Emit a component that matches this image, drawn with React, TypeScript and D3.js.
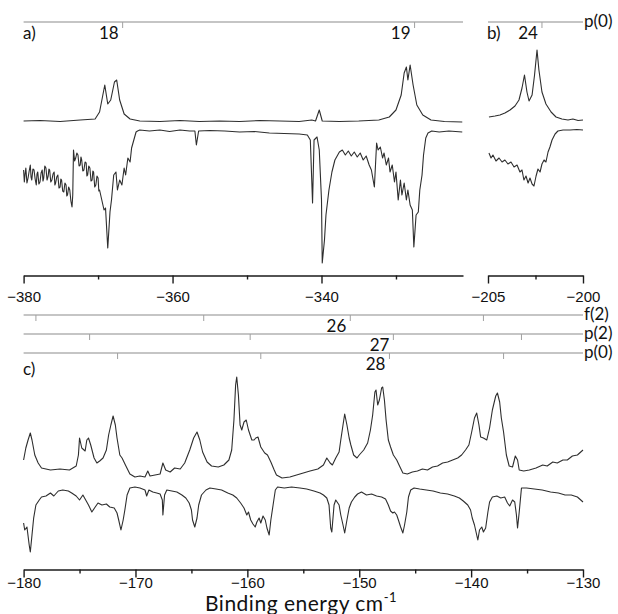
import { useRef, useEffect } from 'react';
import * as d3 from 'd3';

// binding energy (cm-1) / intensity (arb. units)

// panel a) upper trace
const aUpper = [
  [-380, 154], [-377.8, 154.5], [-375.1, 153.5], [-372.4, 155], [-370.4, 156],
  [-369.8, 163], [-369.1, 190], [-368.7, 171], [-368.3, 175], [-367.8, 193],
  [-367.5, 195], [-367.1, 175], [-366.5, 161], [-365.7, 156], [-364.4, 154],
  [-361.7, 153.5], [-359.0, 154.5], [-356.4, 153.5], [-353.7, 154], [-351.0, 153.5],
  [-348.3, 154.5], [-345.6, 154], [-343.0, 153.5], [-341.3, 155], [-340.8, 154],
  [-340.3, 165], [-339.9, 154], [-337.6, 153.5], [-335.0, 154], [-332.3, 155],
  [-330.9, 158], [-330.0, 165], [-329.3, 180], [-328.9, 202], [-328.6, 208],
  [-328.4, 195], [-328.1, 210], [-327.7, 190], [-327.2, 170], [-326.4, 160],
  [-325.3, 155], [-323.5, 153.5], [-321.1, 153],
];

// panel a) lower trace
const aLower = [
  [-380.0, 105], [-379.9, 93], [-379.8, 101], [-379.7, 107], [-379.55, 92], [-379.4, 97],
  [-379.25, 104], [-379.1, 110], [-379.0, 98], [-378.9, 95], [-378.75, 106], [-378.6, 105],
  [-378.45, 96], [-378.3, 90], [-378.2, 101], [-378.1, 103], [-377.95, 91], [-377.8, 93],
  [-377.65, 102], [-377.5, 105], [-377.4, 94], [-377.3, 97], [-377.15, 109], [-377.0, 107],
  [-376.85, 95], [-376.7, 99], [-376.6, 106], [-376.5, 105], [-376.35, 93], [-376.2, 95],
  [-376.05, 101], [-375.9, 103], [-375.8, 90], [-375.7, 92], [-375.55, 98], [-375.4, 100],
  [-375.25, 87], [-375.1, 88], [-375.0, 96], [-374.9, 95], [-374.75, 84], [-374.6, 83],
  [-374.45, 92], [-374.3, 90], [-374.2, 79], [-374.1, 80], [-373.95, 88], [-373.8, 85],
  [-373.65, 74], [-373.5, 68], [-373.4, 80], [-373.3, 125], [-373.15, 114], [-373.0, 117],
  [-372.85, 122], [-372.7, 120], [-372.55, 109], [-372.4, 110], [-372.3, 118], [-372.2, 115],
  [-372.05, 104], [-371.9, 105], [-371.75, 113], [-371.6, 112], [-371.5, 99], [-371.4, 100],
  [-371.25, 109], [-371.1, 107], [-370.95, 94], [-370.8, 95], [-370.7, 104], [-370.6, 103],
  [-370.45, 88], [-370.3, 90], [-370.15, 99], [-370.0, 97], [-369.9, 84],
  [-369.8, 85], [-369.5, 75], [-369.2, 65], [-369.0, 67], [-368.7, 27],
  [-368.4, 63], [-368.2, 75], [-367.9, 100], [-367.6, 103], [-367.4, 85],
  [-367.1, 95], [-366.8, 90], [-366.5, 107], [-366.3, 100], [-366.0, 117],
  [-365.7, 113], [-365.5, 127], [-365.2, 135], [-364.9, 143], [-364.7, 144],
  [-364.4, 145], [-363.1, 144], [-361.7, 145], [-360.4, 143.5], [-359.0, 145],
  [-357.7, 144], [-357.0, 144], [-356.8, 130], [-356.5, 144], [-355.0, 144.5],
  [-353.0, 144], [-351.0, 143], [-349.0, 143.5], [-347.0, 142], [-345.0, 141.5],
  [-343.0, 141], [-341.9, 140], [-341.5, 135], [-341.2, 72], [-341.0, 135],
  [-340.6, 138], [-340.3, 125], [-340.0, 75], [-339.9, 12], [-339.6, 35],
  [-339.4, 60], [-339.0, 85], [-338.6, 103], [-338.2, 115], [-337.6, 123],
  [-337.2, 125], [-336.8, 120], [-336.4, 124], [-336.0, 119], [-335.6, 123],
  [-335.2, 118], [-334.8, 122], [-334.4, 115], [-334.0, 119], [-333.6, 110],
  [-333.3, 105], [-332.9, 88], [-332.6, 132], [-332.4, 125], [-332.1, 128],
  [-331.8, 117], [-331.6, 122], [-331.3, 110], [-331.0, 117], [-330.8, 103],
  [-330.5, 110], [-330.2, 93], [-330.0, 103], [-329.7, 75], [-329.4, 95],
  [-329.2, 80], [-328.9, 92], [-328.6, 75], [-328.4, 85], [-328.1, 70],
  [-327.8, 65], [-327.6, 28], [-327.3, 60], [-327.0, 63], [-326.8, 85],
  [-326.5, 100], [-326.3, 120], [-326.0, 137], [-325.7, 142], [-325.2, 144],
  [-324.2, 143], [-322.9, 144], [-321.1, 143],
];

// panel b) upper trace
const bUpper = [
  [-204.95, 158], [-204.63, 159], [-204.37, 160], [-204.11, 162], [-203.84, 165],
  [-203.58, 169], [-203.37, 175], [-203.21, 187], [-203.08, 200], [-202.95, 183],
  [-202.84, 174], [-202.68, 180], [-202.55, 200], [-202.42, 225], [-202.32, 205],
  [-202.16, 183], [-201.95, 171], [-201.68, 163], [-201.42, 158], [-201.11, 156],
  [-200.79, 155], [-200.53, 156], [-200.26, 154.5], [-200.0, 155],
];

// panel b) lower trace
const bLower = [
  [-204.95, 122], [-204.84, 117], [-204.74, 120], [-204.58, 114], [-204.42, 117],
  [-204.26, 113], [-204.11, 115], [-203.95, 111], [-203.79, 113], [-203.63, 108],
  [-203.47, 110], [-203.32, 103], [-203.21, 105], [-203.11, 95], [-203.0, 99],
  [-202.89, 92], [-202.79, 97], [-202.68, 91], [-202.58, 89], [-202.47, 99],
  [-202.37, 106], [-202.26, 103], [-202.16, 111], [-202.05, 115], [-201.95, 113],
  [-201.84, 123], [-201.74, 128], [-201.63, 135], [-201.47, 141], [-201.32, 144],
  [-201.05, 145], [-200.68, 145], [-200.32, 145.5], [-200.0, 145],
];

// panel c) upper trace
const cUpper = [
  [-180.0, 110], [-179.8, 122], [-179.6, 130], [-179.4, 137], [-179.25, 130],
  [-179.0, 115], [-178.7, 107], [-178.4, 102], [-177.6, 100], [-176.75, 101],
  [-175.9, 100], [-175.3, 104], [-175.1, 115], [-175.0, 132], [-174.8, 122],
  [-174.5, 119], [-174.35, 130], [-174.2, 132], [-174.0, 125], [-173.7, 112],
  [-173.45, 107], [-173.2, 109], [-172.9, 112], [-172.6, 120], [-172.4, 135],
  [-172.2, 145], [-172.0, 154], [-171.8, 145], [-171.65, 132], [-171.4, 115],
  [-171.2, 112], [-170.9, 105], [-170.5, 96], [-170.05, 93], [-169.6, 94],
  [-169.15, 93], [-168.9, 99], [-168.7, 94], [-168.25, 95], [-167.8, 96],
  [-167.55, 107], [-167.3, 100], [-166.9, 98], [-166.5, 102], [-166.0, 101],
  [-165.6, 107], [-165.15, 120], [-164.8, 132], [-164.5, 138], [-164.25, 130],
  [-164.0, 118], [-163.6, 108], [-163.2, 104], [-162.6, 103], [-162.1, 105],
  [-161.65, 110], [-161.4, 120], [-161.2, 150], [-161.05, 185], [-160.95, 193],
  [-160.8, 175], [-160.65, 145], [-160.5, 140], [-160.3, 148], [-160.1, 150],
  [-159.9, 140], [-159.6, 130], [-159.4, 130], [-159.25, 132], [-159.05, 133],
  [-158.8, 123], [-158.45, 117], [-158.2, 115], [-157.9, 108], [-157.6, 100],
  [-157.4, 95], [-156.9, 92], [-156.2, 93], [-155.3, 96], [-154.4, 99],
  [-153.7, 101], [-153.2, 105], [-152.9, 112], [-152.6, 107], [-152.4, 105],
  [-152.1, 112], [-151.8, 118], [-151.65, 130], [-151.45, 145], [-151.3, 156],
  [-151.1, 145], [-150.9, 132], [-150.75, 125], [-150.5, 115], [-150.2, 112],
  [-150.0, 115], [-149.6, 120], [-149.25, 127], [-149.0, 140], [-148.8, 155],
  [-148.6, 178], [-148.5, 180], [-148.35, 165], [-148.2, 170], [-148.0, 182],
  [-147.9, 183], [-147.75, 170], [-147.6, 150], [-147.4, 130], [-147.2, 123],
  [-146.95, 115], [-146.65, 110], [-146.4, 104], [-146.1, 97], [-145.7, 96],
  [-145.25, 98], [-144.8, 99], [-144.35, 101], [-143.9, 100], [-143.45, 103],
  [-143.0, 104], [-142.55, 107], [-142.1, 108], [-141.65, 110], [-141.2, 112],
  [-140.85, 115], [-140.5, 120], [-140.2, 125], [-139.95, 138], [-139.7, 152],
  [-139.5, 157], [-139.3, 145], [-139.15, 133], [-138.9, 132], [-138.6, 130],
  [-138.35, 142], [-138.1, 160], [-137.8, 174], [-137.65, 177], [-137.45, 168],
  [-137.3, 152], [-137.1, 138], [-136.85, 115], [-136.6, 104], [-136.3, 103],
  [-136.05, 114], [-135.85, 110], [-135.7, 100], [-135.3, 99], [-134.8, 100],
  [-134.2, 102], [-133.6, 105], [-133.2, 104], [-132.7, 108], [-132.3, 107],
  [-131.8, 110], [-131.4, 110], [-130.95, 114], [-130.5, 115], [-130.0, 120],
];

// panel c) lower trace
const cLower = [
  [-180.0, 47], [-179.9, 40], [-179.7, 43], [-179.5, 25], [-179.4, 18],
  [-179.25, 35], [-179.1, 52], [-178.9, 65], [-178.6, 70], [-178.4, 73],
  [-178.0, 74], [-177.6, 77], [-177.3, 74], [-176.9, 79], [-176.5, 80],
  [-176.0, 79], [-175.7, 77], [-175.3, 74], [-175.0, 70], [-174.7, 75],
  [-174.4, 69], [-174.2, 65], [-173.9, 58], [-173.6, 63], [-173.35, 67],
  [-173.0, 65], [-172.6, 66], [-172.3, 63], [-171.9, 62], [-171.65, 57],
  [-171.5, 50], [-171.3, 40], [-171.1, 50], [-170.95, 60], [-170.75, 75],
  [-170.5, 82], [-170.05, 83], [-169.6, 82], [-169.15, 80], [-169.0, 74],
  [-168.8, 80], [-168.45, 78], [-168.1, 77], [-167.8, 76], [-167.6, 70],
  [-167.55, 55], [-167.4, 75], [-167.2, 80], [-166.75, 79], [-166.3, 78],
  [-165.85, 75], [-165.5, 72], [-165.2, 67], [-165.0, 60], [-164.9, 50],
  [-164.7, 43], [-164.5, 52], [-164.35, 65], [-164.1, 75], [-163.7, 80],
  [-163.35, 82], [-162.8, 81], [-162.3, 80], [-161.75, 77], [-161.3, 75],
  [-160.95, 72], [-160.6, 67], [-160.3, 62], [-160.05, 55], [-159.9, 58],
  [-159.7, 50], [-159.5, 46], [-159.3, 43], [-159.15, 48], [-158.95, 52],
  [-158.8, 47], [-158.6, 54], [-158.4, 50], [-158.25, 42], [-158.05, 35],
  [-157.9, 50], [-157.7, 65], [-157.5, 80], [-157.3, 83], [-156.7, 82],
  [-156.05, 83], [-155.3, 82], [-154.7, 81], [-154.05, 79], [-153.5, 77],
  [-153.2, 75], [-152.9, 72], [-152.7, 65], [-152.55, 42], [-152.45, 38],
  [-152.25, 65], [-152.1, 70], [-151.8, 65], [-151.65, 55], [-151.45, 45],
  [-151.3, 37], [-151.1, 50], [-150.9, 62], [-150.7, 68], [-150.4, 73],
  [-150.15, 76], [-149.8, 78], [-149.35, 75], [-148.9, 76], [-148.45, 74],
  [-148.0, 73], [-147.65, 71], [-147.4, 65], [-147.2, 59], [-147.0, 57],
  [-146.85, 58], [-146.65, 55], [-146.5, 50], [-146.3, 43], [-146.1, 37],
  [-145.95, 45], [-145.75, 58], [-145.6, 73], [-145.4, 80], [-145.1, 82],
  [-144.6, 81], [-144.0, 80], [-143.4, 79], [-142.75, 77], [-142.1, 76],
  [-141.5, 74], [-141.05, 72], [-140.7, 69], [-140.3, 65], [-140.05, 60],
  [-139.9, 52], [-139.7, 45], [-139.5, 35], [-139.4, 30], [-139.25, 40],
  [-139.05, 43], [-138.9, 38], [-138.7, 42], [-138.5, 58], [-138.35, 68],
  [-138.1, 73], [-137.7, 74], [-137.35, 72], [-137.0, 73], [-136.75, 67],
  [-136.55, 64], [-136.3, 70], [-136.1, 68], [-135.95, 55], [-135.85, 42],
  [-135.7, 58], [-135.5, 82], [-135.05, 82], [-134.35, 81], [-133.65, 80],
  [-132.9, 78], [-132.2, 77], [-131.6, 75], [-131.05, 75], [-130.5, 73],
  [-130.0, 68],
];

// level markers
const aLevels = [-366.7, -327.5];
const aLevelLabels = ['18', '19'];
const bLevels = [-202.16];
const bLevelLabels = ['24'];
const f2Levels = [-178.9, -163.9, -150.8, -138.9];
const p2Levels = [-174.1, -159.75, -146.95, -135.5];
const p0Levels = [-171.6, -158.8, -147.3, -137.1];
const cLadders = [
  { name: 'f(2)', levels: f2Levels, label: '26', labelAt: 2 },
  { name: 'p(2)', levels: p2Levels, label: '27', labelAt: 2 },
  { name: 'p(0)', levels: p0Levels, label: '28', labelAt: 2 },
];

const aTicks = [-380, -370, -360, -350, -340, -330];
const bTicks = [-205, -202.5, -200];
const cTicks = [-180, -175, -170, -165, -160, -155, -150, -145, -140, -135, -130];

export default function App() {
  const svgRef = useRef(null);

  useEffect(() => {
    const w = 618;
    const h = 614;
    const svg = d3.select(svgRef.current).attr('width', w).attr('height', h);
    svg.selectAll('*').remove();

    const labelFont = 'Lato, "Open Sans", sans-serif';
    const tickFont = '"Liberation Sans", Arial, sans-serif';

    // scales
    const xA = d3.scaleLinear().domain([-380, -321]).range([23.6, 463]);
    const xB = d3.scaleLinear().domain([-205, -200]).range([488, 583]);
    const xC = d3.scaleLinear().domain([-180, -130]).range([23.6, 583]);
    const yTop = d3.scaleLinear().domain([0, 250]).range([275, 25]);
    const yC = d3.scaleLinear().domain([0, 200]).range([570, 370]);

    const trace = (data, x, y) => {
      svg
        .append('path')
        .datum(data)
        .attr('fill', 'none')
        .attr('stroke', '#2e2e2e')
        .attr('stroke-width', 1.1)
        .attr('stroke-linejoin', 'round')
        .attr('d', d3.line().x((d) => x(d[0])).y((d) => y(d[1])));
    };

    trace(aUpper, xA, yTop);
    trace(aLower, xA, yTop);
    trace(bUpper, xB, yTop);
    trace(bLower, xB, yTop);
    trace(cUpper, xC, yC);
    trace(cLower, xC, yC);

    // level ladders (grey line + short ticks + label)
    const ladder = (x, y0, levels, labels, labelIdx) => {
      const [r0, r1] = x.range();
      svg
        .append('line')
        .attr('x1', r0)
        .attr('x2', r1)
        .attr('y1', y0)
        .attr('y2', y0)
        .attr('stroke', '#8c8c8c')
        .attr('stroke-width', 1.2);
      svg
        .selectAll()
        .data(levels)
        .enter()
        .append('line')
        .attr('x1', (d) => x(d))
        .attr('x2', (d) => x(d))
        .attr('y1', y0)
        .attr('y2', y0 + 6)
        .attr('stroke', '#a0a0a0')
        .attr('stroke-width', 1);
      labelIdx.forEach((li, i) => {
        svg
          .append('text')
          .attr('x', x(levels[li]) - 4)
          .attr('y', y0 + 17)
          .attr('text-anchor', 'end')
          .style('font-family', labelFont)
          .style('font-size', '17px')
          .attr('fill', '#111')
          .text(labels[i]);
      });
    };

    const topLine = 22;
    ladder(xA, topLine, aLevels, aLevelLabels, [0, 1]);
    ladder(xB, topLine, bLevels, bLevelLabels, [0]);

    const rungY = [315, 334, 353];
    cLadders.forEach((c, i) => {
      ladder(xC, rungY[i], c.levels, [c.label], [c.labelAt]);
      svg
        .append('text')
        .attr('x', 584)
        .attr('y', rungY[i] + 5)
        .style('font-family', labelFont)
        .style('font-size', '17px')
        .attr('fill', '#111')
        .text(c.name);
    });

    svg
      .append('text')
      .attr('x', 584)
      .attr('y', topLine + 5)
      .style('font-family', labelFont)
      .style('font-size', '17px')
      .attr('fill', '#111')
      .text('p(0)');

    // panel letters
    [
      ['a)', 23, 39],
      ['b)', 487, 39],
      ['c)', 23, 375],
    ].forEach(([t, x, y]) => {
      svg
        .append('text')
        .attr('x', x)
        .attr('y', y)
        .style('font-family', labelFont)
        .style('font-size', '17px')
        .attr('fill', '#111')
        .text(t);
    });

    // axes
    const drawAxis = (x, ticks, major, yPos, pad) => {
      const g = svg
        .append('g')
        .attr('transform', `translate(0, ${yPos})`)
        .call(
          d3
            .axisBottom(x)
            .tickValues(ticks)
            .tickSize(8)
            .tickSizeOuter(0)
            .tickPadding(pad)
            .tickFormat((d) => (major(d) ? d3.format('d')(d) : ''))
        );
      g.select('.domain').attr('stroke', '#1a1a1a').attr('stroke-width', 1.6);
      g.selectAll('.tick line')
        .attr('stroke', '#1a1a1a')
        .attr('stroke-width', 1.4)
        .attr('y2', (d) => (major(d) ? 8 : 4));
      g.selectAll('.tick text')
        .style('font-family', tickFont)
        .style('font-size', '15px')
        .attr('fill', '#111');
    };

    drawAxis(xA, aTicks, (d) => d % 20 === 0, 275.5, 8);
    drawAxis(xB, bTicks, (d) => d % 5 === 0, 275.5, 8);
    drawAxis(xC, cTicks, (d) => d % 10 === 0, 569.5, 0);

    // x axis title
    const title = svg
      .append('text')
      .attr('x', 205)
      .attr('y', 611)
      .style('font-family', labelFont)
      .style('font-size', '21px')
      .style('letter-spacing', '0.5px')
      .attr('fill', '#111');
    title.append('tspan').text('Binding energy cm');
    title
      .append('tspan')
      .attr('dy', -9)
      .style('font-size', '13px')
      .text('-1');
  }, []);

  return <svg ref={svgRef} style={{ position: 'absolute', left: 0, top: 0 }}></svg>;
}
